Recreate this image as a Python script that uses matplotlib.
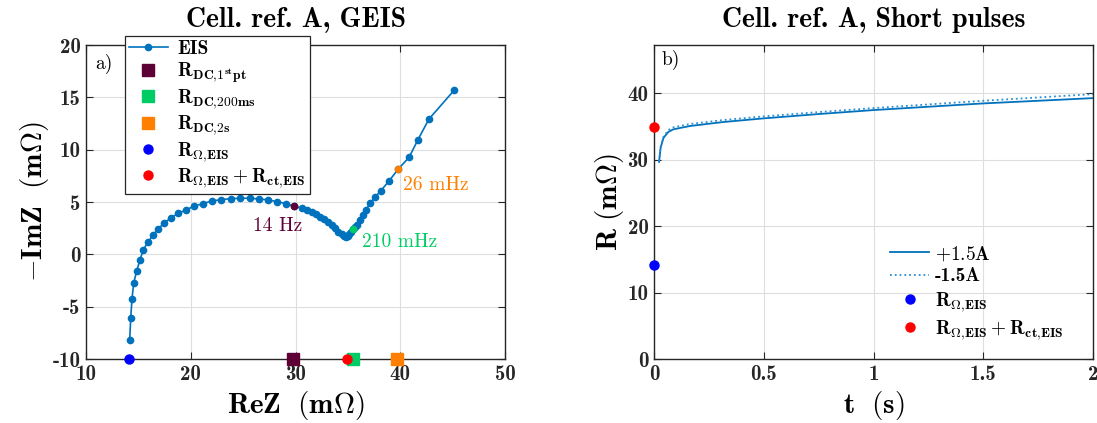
import numpy as np
import matplotlib
matplotlib.use("Agg")
from matplotlib import pyplot as plt

plt.rcParams['font.family'] = 'cmb10'
plt.rcParams['mathtext.fontset'] = 'cm'
plt.rcParams['axes.unicode_minus'] = False
plt.rcParams['axes.formatter.use_mathtext'] = False

# a) GEIS Nyquist data (mOhm)
eis_re = [14.17, 14.27, 14.39, 14.55, 14.84, 15.16, 15.47, 15.95, 16.42, 16.90,
          17.47, 18.11, 18.81, 19.55, 20.28, 21.14, 22.00, 22.89, 23.81, 24.73,
          25.66, 26.54, 27.40, 28.26, 29.09, 29.86, 30.59, 31.07, 31.55, 31.93,
          32.34, 32.72, 33.07, 33.45, 33.77, 34.09, 34.41, 34.62, 34.82, 35.02,
          35.13, 35.30, 35.52, 35.70, 35.84, 36.16, 36.47, 36.73, 37.11, 37.62,
          38.13, 38.95, 39.79, 40.84, 41.69, 42.74, 45.16]
eis_im = [-8.18, -6.05, -4.26, -2.76, -1.56, -0.51, 0.45, 1.21, 1.88, 2.45,
          3.00, 3.48, 3.93, 4.24, 4.59, 4.84, 5.10, 5.22, 5.32, 5.36,
          5.36, 5.29, 5.20, 5.03, 4.84, 4.62, 4.40, 4.24, 4.02, 3.86,
          3.60, 3.35, 3.12, 2.81, 2.49, 2.17, 1.92, 1.76, 1.65, 1.72,
          1.92, 2.12, 2.40, 2.62, 2.81, 3.29, 3.76, 4.24, 4.88, 5.51,
          6.06, 7.04, 8.13, 9.27, 10.96, 12.93, 15.70]

# highlighted frequencies on the EIS curve
freq_labels = ['14 Hz', '210 mHz', '26 mHz']
freq_re = [29.86, 35.52, 39.79]
freq_im = [4.62, 2.40, 8.13]

# DC resistances (mOhm)
rdc_labels = [r'$\mathbf{R_{DC{,}1^{st}pt}}$', r'$\mathbf{R_{DC{,}200ms}}$', r'$\mathbf{R_{DC{,}2s}}$']
rdc_values = [29.8, 35.5, 39.7]
colors = ['#5e0035', '#00cc66', '#ff8000']

r_ohm = 14.1
r_ohm_ct = 34.9
lab_ohm = r'$\mathbf{R_{\Omega{,}EIS}}$'
lab_sum = r'$\mathbf{R_{\Omega{,}EIS}+R_{ct{,}EIS}}$'

# b) short pulses
t_pos = [0.023, 0.03, 0.043, 0.065, 0.088, 0.164, 0.316, 0.5, 0.75, 1.0, 1.25, 1.5, 1.75, 2.0]
r_pos = [29.7, 31.8, 33.3, 34.2, 34.6, 35.1, 35.7, 36.25, 36.9, 37.5, 38.0, 38.5, 38.9, 39.3]
t_neg = [0.023, 0.03, 0.043, 0.065, 0.088, 0.164, 0.316, 0.5, 0.75, 1.0, 1.25, 1.5, 1.75, 2.0]
r_neg = [29.8, 32.0, 33.5, 34.5, 34.9, 35.4, 36.0, 36.55, 37.2, 37.8, 38.35, 38.9, 39.4, 39.9]

fig = plt.figure(figsize=(10.97, 4.23), dpi=100)
ax1 = fig.add_axes([0.0784, 0.1513, 0.382, 0.7423])
ax2 = fig.add_axes([0.5962, 0.1513, 0.4002, 0.7423])

def style(ax):
    ax.grid(True, color='#dedede', lw=0.8)
    ax.set_axisbelow(True)
    ax.tick_params(direction='in', top=True, right=True, labelsize=15, length=5,
                   colors='#262626', pad=4)
    for s in ax.spines.values():
        s.set_color('#262626')
        s.set_linewidth(1.0)

# ---- a)
style(ax1)
ax1.plot(eis_re, eis_im, '-o', color='#0072bd', ms=4.5, lw=1.2, label='EIS')
for i in range(3):
    ax1.plot(freq_re[i], freq_im[i], 'o', color=colors[i], ms=4.5, zorder=3)
for i in range(3):
    ax1.plot(rdc_values[i], -10, 's', color=colors[i], ms=9, clip_on=False,
             zorder=4, label=rdc_labels[i])
ax1.plot(r_ohm, -10, 'o', color='#0000ff', ms=6.5, clip_on=False, zorder=4, label=lab_ohm)
ax1.plot(r_ohm_ct, -10, 'o', color='#ff0000', ms=6.5, clip_on=False, zorder=4, label=lab_sum)

ax1.text(28.3, 2.75, freq_labels[0], color=colors[0], family='cmr10', fontsize=14,
         ha='center', va='center')
ax1.text(36.3, 1.18, freq_labels[1], color=colors[1], family='cmr10', fontsize=14,
         ha='left', va='center')
ax1.text(40.3, 6.63, freq_labels[2], color=colors[2], family='cmr10', fontsize=14,
         ha='left', va='center')
ax1.text(0.021, 0.94, 'a)', transform=ax1.transAxes, family='cmr10', fontsize=14,
         ha='left', va='center')

ax1.set_xlim(10, 50)
ax1.set_ylim(-10, 20)
ax1.set_xticks([10, 20, 30, 40, 50])
ax1.set_yticks([-10, -5, 0, 5, 10, 15, 20])
ax1.set_xlabel(r'$\mathbf{ReZ\ \ (m\Omega)}$', fontsize=21, labelpad=4)
ax1.set_ylabel(r'$\mathbf{-ImZ\ \ (m\Omega)}$', fontsize=21, labelpad=1)
ax1.set_title('Cell. ref. A, GEIS', fontsize=20, pad=13)
leg1 = ax1.legend(loc='upper left', bbox_to_anchor=(0.093, 1.028), fontsize=14,
                  fancybox=False, framealpha=1, edgecolor='#262626',
                  handlelength=2.0, borderpad=0.2, labelspacing=0.12, handletextpad=0.5,
                  borderaxespad=0)
leg1.get_frame().set_linewidth(0.9)

# ---- b)
style(ax2)
ax2.plot(t_pos, r_pos, '-', color='#0072bd', lw=1.3, label=r'$\mathbf{+1.5A}$')
ax2.plot(t_neg, r_neg, ':', color='#2a8fd6', lw=1.3, label='-1.5A')
ax2.plot(0, r_ohm, 'o', color='#0000ff', ms=6.5, clip_on=False, zorder=4, label=lab_ohm)
ax2.plot(0, r_ohm_ct, 'o', color='#ff0000', ms=6.5, clip_on=False, zorder=4, label=lab_sum)
ax2.text(0.018, 0.952, 'b)', transform=ax2.transAxes, family='cmr10', fontsize=14,
         ha='left', va='center')
ax2.set_xlim(0, 2)
ax2.set_ylim(0, 47.3)
ax2.set_xticks([0, 0.5, 1, 1.5, 2])
ax2.set_xticklabels(['0', '0.5', '1', '1.5', '2'])
ax2.set_yticks([0, 10, 20, 30, 40])
ax2.set_xlabel(r'$\mathbf{t\ \ (s)}$', fontsize=21, labelpad=4)
ax2.set_ylabel(r'$\mathbf{R\ (m\Omega)}$', fontsize=21, labelpad=1)
ax2.set_title('Cell. ref. A, Short pulses', fontsize=20, pad=13)
ax2.legend(loc='upper left', bbox_to_anchor=(0.52, 0.39), fontsize=14, frameon=False,
           handlelength=2.0, labelspacing=0.22, handletextpad=0.3, borderaxespad=0)

fig.savefig('out.png', dpi=100)
